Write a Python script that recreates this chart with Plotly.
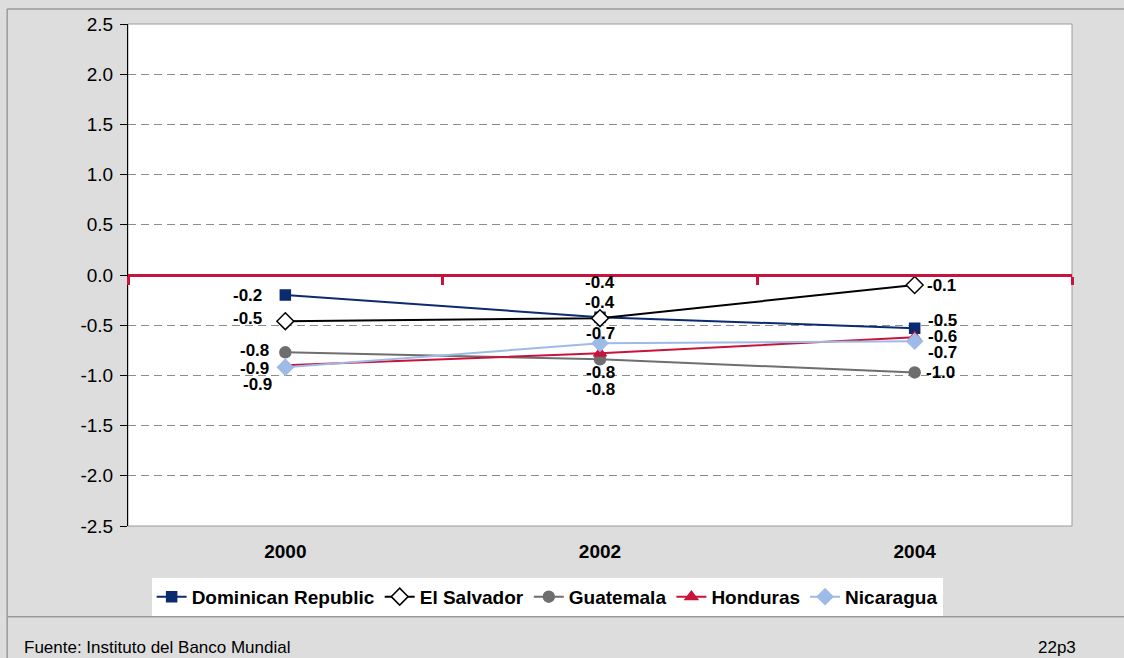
import plotly.graph_objects as go

years = ["2000", "2002", "2004"]
dominican = [-0.20, -0.42, -0.53]
el_salvador = [-0.46, -0.43, -0.10]
guatemala = [-0.77, -0.84, -0.97]
honduras = [-0.90, -0.78, -0.62]
nicaragua = [-0.92, -0.68, -0.66]

series_names = ["Dominican Republic", "El Salvador", "Guatemala", "Honduras", "Nicaragua"]
series_values = [dominican, el_salvador, guatemala, honduras, nicaragua]

y_ticks = [-2.5, -2.0, -1.5, -1.0, -0.5, 0.0, 0.5, 1.0, 1.5, 2.0, 2.5]

source_text = "Fuente: Instituto del Banco Mundial"
page_code = "22p3"

# styles
colors = ["#0b2a6f", "#000000", "#6e6e6e", "#c8143c", "#9dbbe6"]
symbols = ["square", "diamond", "circle", "triangle-up", "diamond"]
fills = ["#0b2a6f", "white", "#6e6e6e", "#c8143c", "#9dbbe6"]
msizes = [10, 13, 11, 11, 12]
# label offsets (px) per series per year: (dx, dy)
label_offsets = [
    [(-38, 0), (0, 35), (28, 8)],
    [(-38, 3), (0, 16), (27, 0)],
    [(-31, 2), (0, -30), (26, 0)],
    [(-31, -3), (0, -19), (28, 1)],
    [(-28, -17), (0, 10), (28, -11)],
]

FONT = "Liberation Sans, Arial, sans-serif"

fig = go.Figure()
for name, vals, c, s, f, ms in zip(series_names, series_values, colors, symbols, fills, msizes):
    fig.add_trace(go.Scatter(
        x=years, y=vals, name=name, mode="lines+markers",
        line=dict(color=c, width=2),
        marker=dict(symbol=s, size=ms, color=f, line=dict(color=c, width=1.5)),
        hoverinfo="skip",
    ))

# helper trace for zero-crossing category axis (no marks)
fig.add_trace(go.Scatter(x=years, y=dominican, xaxis="x2", mode="none",
                         showlegend=False, hoverinfo="skip"))

annotations = []
for vals, offs in zip(series_values, label_offsets):
    for i, (v, (dx, dy)) in enumerate(zip(vals, offs)):
        annotations.append(dict(
            x=i, y=v, xref="x", yref="y", text=f"{v:.1f}", showarrow=False,
            xshift=dx, yshift=dy, xanchor="center", yanchor="middle",
            font=dict(family=FONT, size=17, color="black", weight="bold"),
        ))

annotations.append(dict(x=-0.112, y=-0.243, xref="paper", yref="paper", text=source_text,
                        showarrow=False, xanchor="left", yanchor="middle",
                        font=dict(family=FONT, size=17, color="black")))
annotations.append(dict(x=1.006, y=-0.243, xref="paper", yref="paper", text=page_code,
                        showarrow=False, xanchor="right", yanchor="middle",
                        font=dict(family=FONT, size=17, color="black")))

shapes = [
    # plot area border
    dict(type="rect", xref="paper", yref="paper", x0=0, x1=1, y0=0, y1=1,
         line=dict(color="#9a9a9a", width=1), layer="below"),
    # outer top line
    dict(type="line", xref="paper", yref="paper", x0=-0.128, x1=1.06, y0=1.0299, y1=1.0299,
         line=dict(color="#9a9a9a", width=1.5)),
    # outer left line
    dict(type="line", xref="paper", yref="paper", x0=-0.128, x1=-0.128, y0=1.0299, y1=-0.27,
         line=dict(color="#9a9a9a", width=1.5)),
    # separator above footer
    dict(type="line", xref="paper", yref="paper", x0=-0.128, x1=1.06, y0=-0.181, y1=-0.181,
         line=dict(color="#9a9a9a", width=1.5)),
]

fig.update_layout(
    width=1124, height=658,
    margin=dict(l=128, r=52, t=24, b=132),
    paper_bgcolor="#dddddd", plot_bgcolor="white",
    font=dict(family=FONT, color="black"),
    showlegend=True,
    legend=dict(orientation="h", x=0.444, xanchor="center", y=-0.141, yanchor="middle",
                bgcolor="white", font=dict(family=FONT, size=19, color="black", weight="bold"),
                itemwidth=30, tracegroupgap=0),
    xaxis=dict(type="category", categoryorder="array", categoryarray=years,
               range=[-0.5, 2.5], showgrid=False, zeroline=False, showline=False,
               ticks="", tickfont=dict(family=FONT, size=19, weight="bold"), ticklabelstandoff=12),
    xaxis2=dict(type="category", categoryorder="array", categoryarray=years,
                range=[-0.5, 2.5], overlaying="x", anchor="free", position=0.5, side="bottom",
                showline=True, linecolor="#c8143c", linewidth=3, showgrid=False,
                ticks="outside", tickson="boundaries", ticklen=8, tickwidth=3,
                tickcolor="#c8143c", showticklabels=False, zeroline=False),
    yaxis=dict(range=[-2.5, 2.5], tickvals=y_ticks, ticktext=[f"{t:.1f}" for t in y_ticks],
               showgrid=True, gridcolor="#8c8c8c", griddash="8px,5px", gridwidth=1,
               zeroline=False, showline=True, linecolor="black", linewidth=1,
               ticks="outside", ticklen=7, tickcolor="black", ticklabelstandoff=3,
               tickfont=dict(family=FONT, size=19)),
    annotations=annotations,
    shapes=shapes,
)

fig.write_html("out.html", config={"displayModeBar": False},
               post_script="document.body.style.margin='0';")
